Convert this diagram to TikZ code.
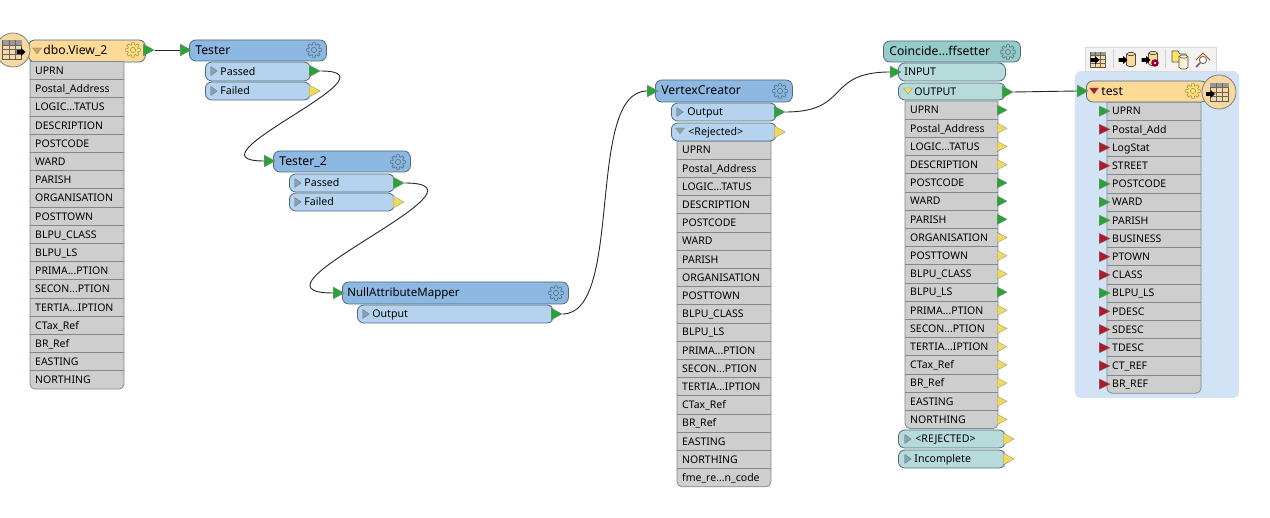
\documentclass[tikz,border=0pt]{standalone}
\usepackage{fontspec}
\setmainfont{Noto Sans}
\usetikzlibrary{shapes.geometric}
\definecolor{hblue}{HTML}{8DB8E2}
\definecolor{pblue}{HTML}{B5D3EE}
\definecolor{hteal}{HTML}{96CBC9}
\definecolor{pteal}{HTML}{B6DBDA}
\definecolor{horange}{HTML}{FFD996}
\definecolor{circorange}{HTML}{F6D8A0}
\definecolor{rowgray}{HTML}{CECECE}
\definecolor{edgecol}{HTML}{4D6B7E}
\definecolor{rowedge}{HTML}{7C8A94}
\definecolor{tG}{HTML}{2AA238}
\definecolor{tY}{HTML}{F0DA5E}
\definecolor{tR}{HTML}{A81C2B}
\definecolor{panelcol}{HTML}{D2E3F5}
\definecolor{mkgray}{HTML}{8C9FB0}
\definecolor{gearfill}{HTML}{FFE27A}
\definecolor{geartan}{HTML}{9C9050}
\definecolor{tanmark}{HTML}{C9A45A}
\newcommand{\dd}{.\kern0pt.\kern0pt.}
\tikzset{
  x=1pt,y=-1pt,
  box/.style={draw=edgecol,line width=.8pt,rounded corners=6.5pt,inner xsep=0pt,inner ysep=0pt,align=left,text height=10pt,text depth=2pt,anchor=west},
  headtext/.style={font=\fontsize{12.2}{14}\selectfont},
  porttext/.style={font=\fontsize{10.6}{12}\selectfont},
  rowtext/.style={font=\fontsize{10.5}{12}\selectfont,inner xsep=0pt,inner ysep=0pt,anchor=west,draw=none,text height=9.6pt,text depth=1.8pt,align=left},
  tri/.style={isosceles triangle,isosceles triangle stretches,shape border rotate=0,inner sep=0pt,anchor=west,minimum height=11pt,minimum width=12pt,draw=black!45,line width=.3pt},
  smalltri/.style={tri,minimum height=10pt,minimum width=10.5pt},
  conn/.style={draw=black!85,line width=.9pt},
}
% name, x1, y1, x2, y2, fill, text inset, text style, text
\newcommand{\fmebox}[9]{%
  \pgfmathsetmacro{\bw}{#4-#2}\pgfmathsetmacro{\bh}{#5-#3}\pgfmathsetmacro{\bc}{(#3+#5)/2}%
  \node[box,fill=#6,minimum width=\bw pt,minimum height=\bh pt,#8,text width=\bw pt,inner xsep=0pt,align=left] (#1) at (#2,\bc) {\hspace*{#7pt}#9};}
% prefix, x1, x2, top, n, column of rows: label/colour
\def\noport{N}
\newcommand{\attrcol}[6]{%
  \pgfmathsetmacro{\yb}{#4+#5*18.2}%
  \path[draw=rowedge,fill=rowgray,line width=.8pt] (#2,#4) [sharp corners] -- (#3,#4) [rounded corners=5pt] -- (#3,\yb) -- (#2,\yb) [sharp corners] -- cycle;
  \foreach \lab/\col [count=\i] in {#6}{%
    \pgfmathsetmacro{\yc}{#4+(\i-.5)*18.2}%
    \pgfmathsetmacro{\yl}{#4+\i*18.2}%
    \ifnum\i<#5 \draw[rowedge,line width=.8pt] (#2,\yl) -- (#3,\yl);\fi
    \node[rowtext] (#1-\i) at (#2+5,\yc) {\lab};
    \ifx\col\noport\else
      \ifdim#2pt>1090pt
        \node[smalltri,fill=\col,minimum height=11pt] (#1-\i-t) at (#2-8,\yc) {};
      \else
        \node[smalltri,fill=\col] (#1-\i-t) at (#3-1,\yc) {};
      \fi
    \fi
  }}
\newcommand{\gear}[3]{%
  \draw[draw=#2,fill=#3,line width=.55pt] (#1) +(-9:7.5)
    foreach \a in {0,45,...,315} { -- +(\a-9:7.5) -- +(\a+9:7.5) -- +(\a+18:5.2) -- +(\a+27:5.2)} -- cycle;
  \draw[draw=#2,line width=.55pt] (#1) circle (2.6);}
\newcommand{\rtmark}[1]{\fill[mkgray,draw=edgecol,line width=.25pt] (#1) +(-3.2,-4.5) -- +(3.2,0) -- +(-3.2,4.5) -- cycle;}
\newcommand{\dnmark}[2]{\fill[#2,draw=black!45,line width=.25pt] (#1) +(-4.5,-3) -- +(4.5,-3) -- +(0,3) -- cycle;}
% table icon: centre, half size
\newcommand{\tableicon}[4]{%
  \begin{scope}[shift={(#1,#2)},scale=#3]
    \fill[#4,draw=black!65,line width=.6pt] (-10,-10) rectangle (10,10);
    \fill[black!40] (-10,-10) rectangle (10,-5.5);
    \foreach \u in {-3.3,3.3} \draw[black!60,line width=.5pt] (\u,-10) -- (\u,10);
    \foreach \v in {-5.5,-.5,4.5} \draw[black!60,line width=.5pt] (-10,\v) -- (10,\v);
  \end{scope}}
\newcommand{\blackarrow}[2]{\fill[black] (#1-4.5,#2-1.8) -- (#1,#2-1.8) -- (#1,#2-4) -- (#1+4.5,#2) -- (#1,#2+4) -- (#1,#2+1.8) -- (#1-4.5,#2+1.8) -- cycle;}
\newcommand{\cyl}[3]{%
  \fill[#3,draw=black!70,line width=.6pt] (#1-4.5,#2-5.5) -- (#1-4.5,#2+5.5) -- (#1-2,#2+7) -- (#1+2,#2+7) -- (#1+4.5,#2+5.5) -- (#1+4.5,#2-5.5) -- (#1+2,#2-7) -- (#1-2,#2-7) -- cycle;
  \draw[black!70,line width=.6pt] (#1-4.5,#2-5.5) -- (#1-2,#2-4) -- (#1+2,#2-4) -- (#1+4.5,#2-5.5);}
\begin{document}
\begin{tikzpicture}
\useasboundingbox (0,0) rectangle (1270,518);
\fill[white] (0,0) rectangle (1270,518);

% panel and toolbar of the writer
\fill[panelcol,rounded corners=6pt] (1075,71) rectangle (1239,398);
\fill[black!5,draw=black!15,line width=.6pt] (1085,47) rectangle (1216,71);
\draw[black!18,line width=.6pt] (1113,49) -- (1113,68);
\draw[black!18,line width=.6pt] (1165,49) -- (1165,68);
\tableicon{1098}{59.5}{.75}{horange}
\blackarrow{1095}{60}
\cyl{1131}{59.5}{horange}
\blackarrow{1123}{60}
\cyl{1153}{58.5}{horange}
\blackarrow{1146}{60}
\fill[purple!75!black] (1155,63) circle (3.8);
\fill[white] (1155,63) circle (1.2);
\fill[horange!70!yellow,draw=black!70,line width=.6pt] (1172,51) -- (1178,51) -- (1180,54) -- (1186,54) -- (1186,62) -- (1172,62) -- cycle;
\cyl{1183.5}{62}{horange!40!white}
\draw[orange!70!black,line width=1pt] (1196,60) -- (1203,53) -- (1210,60);
\draw[black!60,line width=.9pt,fill=white] (1203,60) circle (3.6);
\draw[black!60,line width=1.6pt] (1200,63) -- (1196,67);

% reader
\fmebox{reader}{28}{40}{145}{62}{horange}{15}{headtext}{dbo.View\_2}
\dnmark{37,51}{tanmark}
\gear{133,50}{geartan}{gearfill}
\attrcol{ra}{30}{124}{61.5}{18}{UPRN/N,Postal\_Address/N,LOGIC\dd TATUS/N,DESCRIPTION/N,POSTCODE/N,WARD/N,PARISH/N,ORGANISATION/N,POSTTOWN/N,BLPU\_CLASS/N,BLPU\_LS/N,PRIMA\dd PTION/N,SECON\dd PTION/N,TERTIA\dd IPTION/N,CTax\_Ref/N,BR\_Ref/N,EASTING/N,NORTHING/N}
\fill[circorange,draw=black!50,line width=.8pt] (13,50) circle (17);
\tableicon{12}{50}{.95}{circorange}
\blackarrow{21}{52}
\node[tri,fill=tG] (readerout) at (143,50) {};

% Tester
\fmebox{tester}{189}{40}{326}{61}{hblue}{6}{headtext}{Tester}
\gear{314,50}{edgecol}{hblue}
\fmebox{tpass}{205}{62}{310}{81}{pblue}{15}{porttext}{Passed}
\fmebox{tfail}{205}{82}{310}{100}{pblue}{15}{porttext}{Failed}
\rtmark{214,71}\rtmark{214,91}
\node[tri,fill=tG] (tin) at (180,50) {};
\node[tri,fill=tG] (tpassout) at (309,71) {};
\node[tri,fill=tY] (tfailout) at (309,91) {};

% Tester_2
\fmebox{testerb}{273}{151}{410}{172}{hblue}{6}{headtext}{Tester\_2}
\gear{398,162}{edgecol}{hblue}
\fmebox{bpass}{289}{174}{394}{192}{pblue}{15}{porttext}{Passed}
\fmebox{bfail}{289}{193}{394}{211}{pblue}{15}{porttext}{Failed}
\rtmark{298,183}\rtmark{298,202}
\node[tri,fill=tG] (bin) at (264,161) {};
\node[tri,fill=tG] (bpassout) at (393,183) {};
\node[tri,fill=tY] (bfailout) at (393,202) {};

% NullAttributeMapper
\fmebox{nullmap}{342}{282}{568}{304}{hblue}{5}{font=\fontsize{11.5}{14}\selectfont}{NullAttributeMapper}
\gear{556,293}{edgecol}{hblue}
\fmebox{nout}{357}{305}{553}{323}{pblue}{15}{porttext}{Output}
\rtmark{366,314}
\node[tri,fill=tG] (nin) at (333,293) {};
\node[tri,fill=tG] (noutt) at (551,314) {};

% VertexCreator
\fmebox{vc}{655}{80}{792}{102}{hblue}{6}{headtext}{VertexCreator}
\gear{780,91}{edgecol}{hblue}
\attrcol{va}{677}{771}{141}{19}{UPRN/N,Postal\_Address/N,LOGIC\dd TATUS/N,DESCRIPTION/N,POSTCODE/N,WARD/N,PARISH/N,ORGANISATION/N,POSTTOWN/N,BLPU\_CLASS/N,BLPU\_LS/N,PRIMA\dd PTION/N,SECON\dd PTION/N,TERTIA\dd IPTION/N,CTax\_Ref/N,BR\_Ref/N,EASTING/N,NORTHING/N,fme\_re\dd n\_code/N}
\fmebox{vout}{671}{103}{776}{121}{pblue}{16}{porttext}{Output}
\fmebox{vrej}{671}{123}{776}{141}{pblue}{17}{porttext}{<Rejected>}
\rtmark{680,112}
\dnmark{680,131}{mkgray}
\node[tri,fill=tG] (vin) at (647,91) {};
\node[tri,fill=tG] (voutt) at (774,112) {};
\node[tri,fill=tY] (vrejt) at (774,132) {};

% CoincidentPointOffsetter
\fmebox{co}{883}{41}{1020}{62}{hteal}{6}{headtext}{Coincide\dd ffsetter}
\gear{1008,52}{edgecol}{hteal}
\fmebox{cin}{898}{63}{1005}{81}{pteal}{6}{porttext}{INPUT}
\attrcol{ca}{905}{998}{101}{18}{UPRN/tG,Postal\_Address/tY,LOGIC\dd TATUS/tY,DESCRIPTION/tY,POSTCODE/tG,WARD/tG,PARISH/tG,ORGANISATION/tY,POSTTOWN/tY,BLPU\_CLASS/tY,BLPU\_LS/tG,PRIMA\dd PTION/tY,SECON\dd PTION/tY,TERTIA\dd IPTION/tY,CTax\_Ref/tY,BR\_Ref/tY,EASTING/tY,NORTHING/tY}
\fmebox{cout}{898}{83}{1005}{100}{pteal}{16}{porttext}{OUTPUT}
\dnmark{908,91}{tY}
\fmebox{crej}{898}{430}{1005}{448}{pteal}{17}{porttext}{<REJECTED>}
\fmebox{cinc}{898}{450}{1005}{468}{pteal}{16}{porttext}{Incomplete}
\rtmark{908,439}\rtmark{908,459}
\node[tri,fill=tG] (cint) at (890,72) {};
\node[tri,fill=tG] (coutt) at (1002,92) {};
\node[tri,fill=tY] (crejt) at (1003,439) {};
\node[tri,fill=tY] (cinct) at (1003,459) {};

% writer
\attrcol{wa}{1107}{1201}{102}{16}{UPRN/tG,Postal\_Add/tR,LogStat/tR,STREET/tR,POSTCODE/tG,WARD/tG,PARISH/tG,BUSINESS/tR,PTOWN/tR,CLASS/tR,BLPU\_LS/tG,PDESC/tR,SDESC/tR,TDESC/tR,CT\_REF/tR,BR\_REF/tR}
\fmebox{writer}{1086}{81}{1207}{102}{horange}{15}{headtext}{test}
\dnmark{1094,91}{tR}
\gear{1193,91}{geartan}{gearfill}
\fill[circorange,draw=black!50,line width=.8pt] (1219,92) circle (17);
\tableicon{1219.5}{92.5}{.92}{circorange}
\blackarrow{1210.5}{94}
\node[tri,fill=tG] (win) at (1077,91) {};

% connectors
\draw[conn] (readerout.apex) -- (tin.west);
\draw[conn] (tpassout.apex) .. controls +(85,0) and +(-85,0) .. (bin.west);
\draw[conn] (bpassout.apex) .. controls +(102,0) and +(-102,0) .. (nin.west);
\draw[conn] (noutt.apex) .. controls +(62,0) and +(-62,0) .. (vin.west);
\draw[conn] (voutt.apex) .. controls +(65,0) and +(-65,0) .. (cint.west);
\draw[conn] (coutt.apex) -- (win.west);
\end{tikzpicture}
\end{document}
